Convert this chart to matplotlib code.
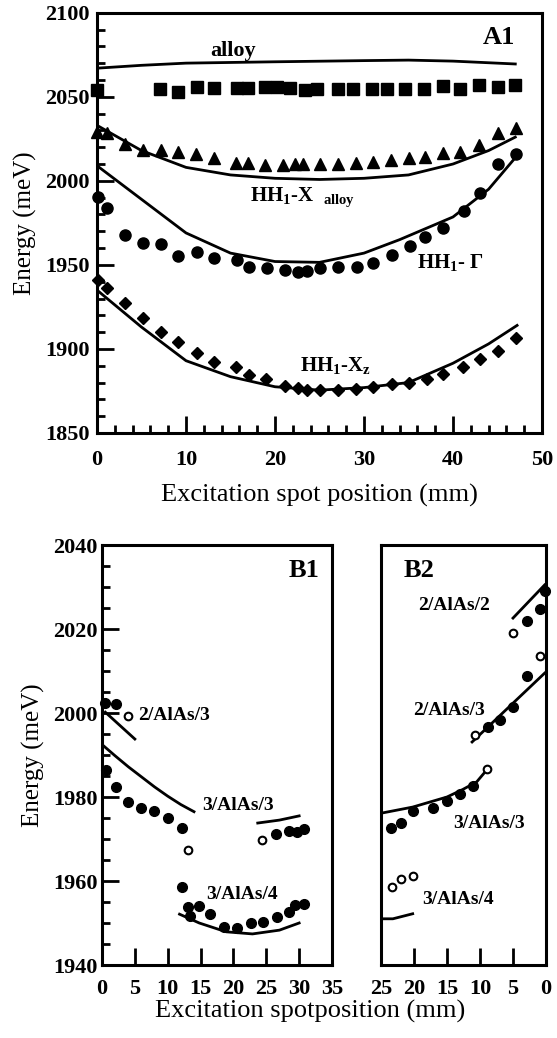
import numpy as np
import matplotlib
matplotlib.use("Agg")
import matplotlib.pyplot as plt
from matplotlib.ticker import MultipleLocator

plt.rcParams['font.family'] = ['Liberation Serif', 'DejaVu Serif']
plt.rcParams['mathtext.fontset'] = 'custom'
plt.rcParams['mathtext.rm'] = 'Liberation Serif'
plt.rcParams['mathtext.bf'] = 'Liberation Serif:bold'
plt.rcParams['mathtext.it'] = 'Liberation Serif:italic'

# ---- panel A1 ----
alloy_x = [0, 5, 10, 20, 30, 35, 40, 47]
alloy_e = [2067, 2068.7, 2070, 2070.8, 2071.5, 2071.8, 2071.2, 2069.5]

sq_x = [0, 7.1, 9.1, 11.2, 13.1, 15.7, 17, 18.9, 20.2, 21.7, 23.4, 24.7, 27.1,
        28.8, 30.9, 32.6, 34.6, 36.7, 38.9, 40.8, 42.9, 45, 47]
sq_e = [2054, 2054.5, 2052.8, 2055.7, 2055, 2055.3, 2055.3, 2055.6, 2055.6, 2055,
        2054, 2054.4, 2054.9, 2054.9, 2054.9, 2054.9, 2054.9, 2054.4, 2056.4,
        2054.9, 2057, 2055.6, 2057]

tri_x = [0, 1.1, 3.1, 5.2, 7.2, 9.1, 11.1, 13.1, 15.6, 17, 18.9, 20.9, 22.3, 23.2,
         25.1, 27.1, 29.1, 31, 33, 35, 36.9, 38.9, 40.8, 42.9, 45, 47.1]
tri_e = [2029, 2028.3, 2021.8, 2018.3, 2018.3, 2017.1, 2016, 2013.5, 2010.6, 2010.5,
         2009.3, 2009.3, 2009.9, 2010.3, 2010.3, 2010.3, 2010.7, 2011.3, 2012.3,
         2013.3, 2014.2, 2016.3, 2017.3, 2021.2, 2028.6, 2031.5]

xal_x = [0, 5, 10, 15, 20, 25, 30, 35, 40, 44, 47]
xal_e = [2033, 2018, 2008, 2003.5, 2001.5, 2000.8, 2001.5, 2003.5, 2010, 2018, 2026]

gam_px = [0.1, 1.1, 3.2, 5.2, 7.2, 9.1, 11.2, 13.2, 15.7, 17.1, 19.1, 21.1, 22.6,
          23.6, 25.1, 27.1, 29.2, 31, 33.2, 35.2, 36.9, 38.9, 41.2, 43, 45.1, 47.1]
gam_pe = [1990.3, 1983.7, 1967.6, 1962.9, 1962.2, 1955.2, 1957.6, 1954, 1952.8,
          1948.6, 1948, 1946.8, 1945.6, 1946.2, 1948, 1948.6, 1948.6, 1951, 1955.8,
          1961, 1966.4, 1971.9, 1981.8, 1992.5, 2010.3, 2015.8]
gam_x = [0, 5, 10, 15, 20, 25, 30, 34, 40, 44, 47.2]
gam_e = [2009, 1989, 1969, 1957, 1952, 1951.5, 1957, 1965, 1978.5, 1995, 2015]

dia_x = [0.1, 1.1, 3.2, 5.2, 7.2, 9.1, 11.2, 13.2, 15.6, 17.1, 19, 21.1, 22.6, 23.6,
         25.1, 27.1, 29.1, 31, 33.2, 35.1, 37.1, 38.9, 41.1, 43, 45, 47.1]
dia_e = [1940.9, 1936, 1927.2, 1918.3, 1910, 1904, 1897.4, 1892, 1889, 1884.3, 1882,
         1878, 1876.5, 1875.5, 1875.5, 1875.5, 1876, 1877.2, 1879, 1879.5, 1882.4,
         1885.2, 1889.4, 1894, 1899, 1906.8]
xz_x = [0, 5, 10, 15, 20, 25, 30, 35, 40, 44, 47.2]
xz_e = [1935, 1913, 1893, 1883.5, 1877.5, 1875.5, 1877, 1880, 1891.5, 1903, 1914]

# ---- panel B1 ----
b1_23_x = [0.5, 5]
b1_23_e = [2000.2, 1993.8]
b1_33a_x = [0, 2, 4, 6, 8, 10, 12, 14]
b1_33a_e = [1992.5, 1989.8, 1987.2, 1984.8, 1982.4, 1980.2, 1978.2, 1976.5]
b1_33b_x = [23.7, 27, 30]
b1_33b_e = [1973.8, 1974.5, 1975.5]
b1_34_x = [11.8, 14.8, 18.9, 22.9, 27, 30]
b1_34_e = [1952.1, 1950, 1947.9, 1947.4, 1948.3, 1950]
b1_fill_x = [0.45, 2.1, 0.6, 2.1, 4, 6, 7.9, 10, 12.1, 12.1, 13.1, 13.4, 14.8, 16.5,
             18.6, 20.5, 22.6, 24.5, 26.6, 28.5, 29.4, 30.7, 26.5, 28.5, 29.6, 30.7]
b1_fill_e = [2002.4, 2002.1, 1986.4, 1982.4, 1978.8, 1977.4, 1976.7, 1975, 1972.6,
             1958.6, 1953.8, 1951.7, 1954, 1952.1, 1949, 1948.8, 1950, 1950.2, 1951.4,
             1952.6, 1954.3, 1954.5, 1971.2, 1971.9, 1971.7, 1972.4]
b1_open_x = [3.9, 13.1, 24.4]
b1_open_e = [1999.2, 1967.4, 1969.8]

# ---- panel B2 ----
b2_22_x = [5, 0.2]
b2_22_e = [2022.6, 2030.5]
b2_23_x = [11.2, 0.2]
b2_23_e = [1993.1, 2009.5]
b2_33_x = [24.8, 20.2, 15, 12.6, 10.5, 9]
b2_33_e = [1976.2, 1977.6, 1980, 1981.8, 1983.6, 1986.4]
b2_34_x = [24.8, 23.2, 20.2]
b2_34_e = [1951, 1951, 1952.2]
b2_fill_x = [0.1, 0.9, 2.9, 2.9, 5, 7, 8.8, 23.5, 22, 20.2, 17.1, 15, 13, 11]
b2_fill_e = [2029, 2024.8, 2021.9, 2008.8, 2001.4, 1998.3, 1996.7, 1972.6, 1973.8,
             1976.6, 1977.4, 1979, 1980.7, 1982.6]
b2_open_x = [5, 0.9, 10.8, 9, 23.3, 22, 20.2]
b2_open_e = [2019, 2013.6, 1994.8, 1986.7, 1958.6, 1960.5, 1961.2]

fig = plt.figure(figsize=(5.57, 10.38), dpi=100)

lw = 2.0
tick_size = 16
label_size = 14
axis_label = 19


def style_axes(ax):
    for s in ax.spines.values():
        s.set_linewidth(2.2)
    ax.tick_params(which='both', direction='in', width=2, top=False, right=False,
                   labelsize=tick_size)
    ax.tick_params(which='major', length=12)
    ax.tick_params(which='minor', length=6)
    for lab in ax.get_xticklabels() + ax.get_yticklabels():
        lab.set_fontweight('bold')


# A1
ax = fig.add_axes([97 / 557, 1 - 433 / 1038, 445 / 557, 420.3 / 1038])
ax.plot(alloy_x, alloy_e, 'k-', lw=lw)
ax.plot(xal_x, xal_e, 'k-', lw=lw)
ax.plot(gam_x, gam_e, 'k-', lw=lw)
ax.plot(xz_x, xz_e, 'k-', lw=lw)
ax.plot(sq_x, sq_e, 'ks', ms=8, clip_on=False)
ax.plot(tri_x, tri_e, 'k^', ms=9, clip_on=False)
ax.plot(gam_px, gam_pe, 'ko', ms=8, clip_on=False)
ax.plot(dia_x, dia_e, 'kD', ms=6, clip_on=False)
ax.set_xlim(0, 50)
ax.set_ylim(1850, 2100)
ax.xaxis.set_major_locator(MultipleLocator(10))
ax.xaxis.set_minor_locator(MultipleLocator(2))
ax.yaxis.set_major_locator(MultipleLocator(50))
ax.yaxis.set_minor_locator(MultipleLocator(10))
style_axes(ax)
ax.tick_params(axis='x', pad=12)
ax.tick_params(axis='y', pad=5)
ax.set_xlabel("Excitation spot position (mm)", fontsize=axis_label,
              fontweight='normal', labelpad=10)
ax.set_ylabel("Energy (meV)", fontsize=axis_label - 1, fontweight='normal', labelpad=6)
ax.text(15.3, 2077, "alloy", fontsize=16, fontweight='bold', ha='center', va='center')
ax.text(0.94, 0.94, "A1", transform=ax.transAxes, fontsize=19, fontweight='bold',
        ha='right', va='center')
ax.text(17.2, 1990.3, r"HH$_\mathbf{1}$-X  $_\mathbf{alloy}$", fontsize=15,
        fontweight='bold', va='center')
ax.text(36, 1951.6, r"HH$_\mathbf{1}$- Γ", fontsize=15, fontweight='bold', va='center')
ax.text(22.8, 1890.3, r"HH$_\mathbf{1}$-X$_\mathbf{z}$", fontsize=15,
        fontweight='bold', va='center')

# B1
ax1 = fig.add_axes([102 / 557, 1 - 965 / 1038, 230 / 557, 420 / 1038])
ax1.plot(b1_23_x, b1_23_e, 'k-', lw=lw)
ax1.plot(b1_33a_x, b1_33a_e, 'k-', lw=lw)
ax1.plot(b1_33b_x, b1_33b_e, 'k-', lw=lw)
ax1.plot(b1_34_x, b1_34_e, 'k-', lw=lw)
ax1.plot(b1_fill_x, b1_fill_e, 'ko', ms=7, clip_on=False)
ax1.plot(b1_open_x, b1_open_e, 'o', mfc='white', mec='k', ms=5.5, mew=1.5)
ax1.set_xlim(0, 35)
ax1.set_ylim(1940, 2040)
ax1.xaxis.set_major_locator(MultipleLocator(5))
ax1.yaxis.set_major_locator(MultipleLocator(20))
ax1.yaxis.set_minor_locator(MultipleLocator(5))
style_axes(ax1)
ax1.tick_params(axis='x', pad=10)
ax1.tick_params(axis='y', pad=3)
ax1.set_ylabel("Energy (meV)", fontsize=axis_label - 1, fontweight='normal', labelpad=6)
ax1.text(0.88, 0.94, "B1", transform=ax1.transAxes, fontsize=19, fontweight='bold',
         ha='center', va='center')
ax1.text(5.5, 1999.5, "2/AlAs/3", fontsize=label_size, fontweight='bold', va='center')
ax1.text(15.2, 1977.9, "3/AlAs/3", fontsize=label_size, fontweight='bold', va='center')
ax1.text(15.9, 1956.9, "3/AlAs/4", fontsize=label_size, fontweight='bold', va='center')

# B2
ax2 = fig.add_axes([381 / 557, 1 - 965 / 1038, 165 / 557, 420 / 1038])
ax2.plot(b2_22_x, b2_22_e, 'k-', lw=lw)
ax2.plot(b2_23_x, b2_23_e, 'k-', lw=lw)
ax2.plot(b2_33_x, b2_33_e, 'k-', lw=lw)
ax2.plot(b2_34_x, b2_34_e, 'k-', lw=lw)
ax2.plot(b2_fill_x, b2_fill_e, 'ko', ms=7, clip_on=False)
ax2.plot(b2_open_x, b2_open_e, 'o', mfc='white', mec='k', ms=5.5, mew=1.5)
ax2.set_xlim(25, 0)
ax2.set_ylim(1940, 2040)
ax2.xaxis.set_major_locator(MultipleLocator(5))
ax2.set_yticks([])
style_axes(ax2)
ax2.tick_params(axis='x', pad=10)
ax2.text(0.23, 0.94, "B2", transform=ax2.transAxes, fontsize=19, fontweight='bold',
         ha='center', va='center')
ax2.text(19.4, 2025.7, "2/AlAs/2", fontsize=label_size, fontweight='bold', va='center')
ax2.text(20.2, 2000.7, "2/AlAs/3", fontsize=label_size, fontweight='bold', va='center')
ax2.text(14.1, 1973.6, "3/AlAs/3", fontsize=label_size, fontweight='bold', va='center')
ax2.text(18.8, 1955.7, "3/AlAs/4", fontsize=label_size, fontweight='bold', va='center')

fig.text(310 / 557, 1 - 1011 / 1038, "Excitation spotposition (mm)", fontsize=axis_label,
         ha='center', va='center')

fig.savefig("out.png", dpi=100)
